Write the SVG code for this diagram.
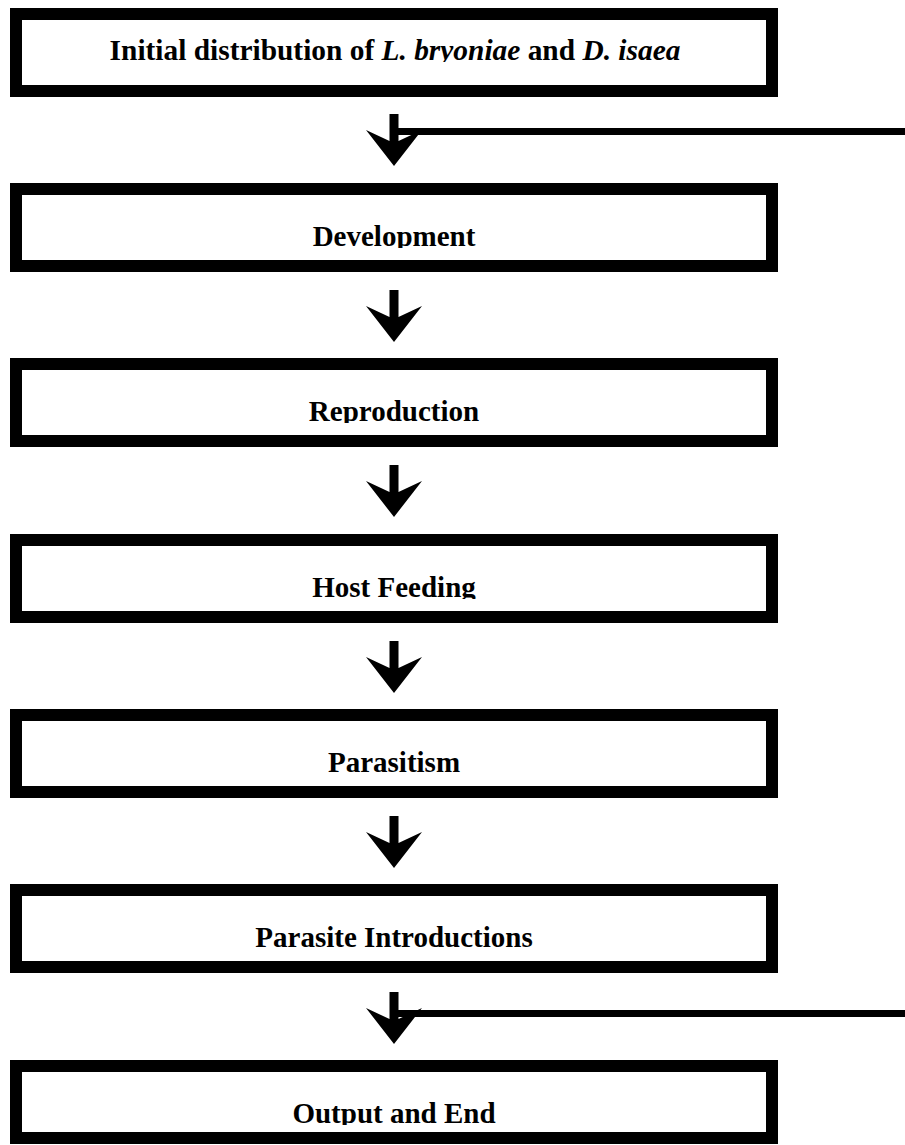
<svg xmlns="http://www.w3.org/2000/svg" xmlns:xlink="http://www.w3.org/1999/xlink" width="905" height="1145" viewBox="0 0 905 1145">
<style>
.box{fill:#fff;stroke:#000;stroke-width:12}
.lbl{font-family:"Liberation Serif","Times New Roman",serif;font-weight:bold;font-size:29px;fill:#000;text-anchor:middle}
.it{font-style:italic}
.feed{stroke:#000;stroke-width:7;fill:none}
</style>
<defs>
<path id="arr" d="M-4.5,0 H4.5 V27 L28,16 L0,52 L-28,16 L-4.5,27 Z" fill="#000"/>
<clipPath id="desc" clipPathUnits="userSpaceOnUse">
<rect x="0" y="8" width="905" height="54"/>
<rect x="0" y="183" width="905" height="65"/>
<rect x="0" y="358" width="905" height="65"/>
<rect x="0" y="534" width="905" height="65"/>
<rect x="0" y="709" width="905" height="65"/>
<rect x="0" y="884" width="905" height="65"/>
<rect x="0" y="1060" width="905" height="65"/>
</clipPath>
</defs>
<rect width="905" height="1145" fill="#fff"/>
<g id="connectors">
<use xlink:href="#arr" href="#arr" x="394" y="114"/>
<line class="feed" x1="398" y1="131.5" x2="905" y2="131.5"/>
<use xlink:href="#arr" href="#arr" x="394" y="290"/>
<use xlink:href="#arr" href="#arr" x="394" y="465"/>
<use xlink:href="#arr" href="#arr" x="394" y="641"/>
<use xlink:href="#arr" href="#arr" x="394" y="816"/>
<use xlink:href="#arr" href="#arr" x="394" y="992"/>
<line class="feed" x1="398" y1="1013.5" x2="905" y2="1013.5"/>
</g>
<g id="n1">
<rect class="box" x="16" y="14" width="756" height="77"/>
<text class="lbl" x="395" y="60" clip-path="url(#desc)" style="font-size:29.4px">Initial distribution of <tspan class="it">L. bryoniae</tspan> and <tspan class="it">D. isaea</tspan></text>
</g>
<g id="n2">
<rect class="box" x="16" y="189" width="756" height="77"/>
<text class="lbl" x="394" y="246" clip-path="url(#desc)">Development</text>
</g>
<g id="n3">
<rect class="box" x="16" y="364" width="756" height="77"/>
<text class="lbl" x="394" y="421" clip-path="url(#desc)">Reproduction</text>
</g>
<g id="n4">
<rect class="box" x="16" y="540" width="756" height="77"/>
<text class="lbl" x="394" y="597" clip-path="url(#desc)">Host Feeding</text>
</g>
<g id="n5">
<rect class="box" x="16" y="715" width="756" height="77"/>
<text class="lbl" x="394" y="772" clip-path="url(#desc)">Parasitism</text>
</g>
<g id="n6">
<rect class="box" x="16" y="890" width="756" height="77"/>
<text class="lbl" x="394" y="947" clip-path="url(#desc)">Parasite Introductions</text>
</g>
<g id="n7">
<rect class="box" x="16" y="1066" width="756" height="72"/>
<text class="lbl" x="394" y="1123" clip-path="url(#desc)">Output and End</text>
</g>
</svg>
